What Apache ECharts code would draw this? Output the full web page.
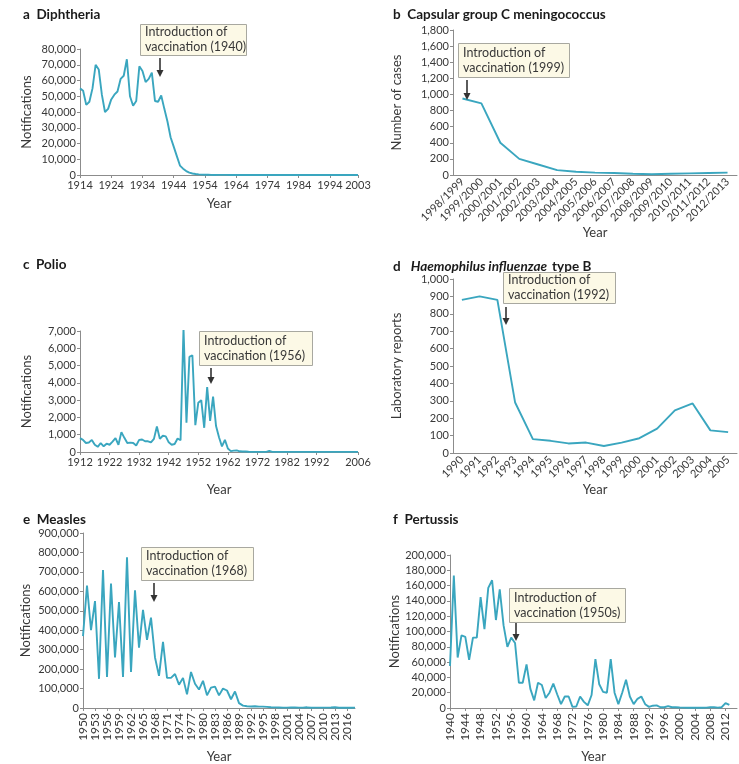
<!DOCTYPE html>
<html><head><meta charset="utf-8">
<script src="https://cdn.jsdelivr.net/npm/echarts@6/dist/echarts.min.js"></script>
<style>html,body{margin:0;padding:0;background:#fff}#c{width:739px;height:764px}</style>
</head><body><div id="c"></div>
<script>
// ---------- DATA ----------
const diphStartYear = 1914, diphEndYear = 2003;
const diphValues = [55000,53500,44500,46500,55000,70000,67000,51000,40000,42000,
  48000,51000,53000,61000,63000,73500,50000,44000,47000,69000,
  66000,59000,61000,65000,47000,46500,50500,42000,34000,24000,
  18000,12000,6000,4000,2500,1500,960,660,380,270,
  180,160,50,40,80,100,50,50,20,30,
  20,25,15,10,15,10,20,15,5,5,
  5,15,5,5,5,5,5,5,5,5,
  5,5,5,5,5,5,5,5,5,10,
  10,10,10,10,20,10,10,10,10,10];

const menCCategories = ['1998/1999','1999/2000','2000/2001','2001/2002','2002/2003','2003/2004','2004/2005','2005/2006','2006/2007','2007/2008','2008/2009','2009/2010','2010/2011','2011/2012','2012/2013'];
const menCValues = [950,890,400,200,130,60,40,30,25,15,10,15,20,25,30];

const polioStartYear = 1912, polioEndYear = 2006;
const polioValues = [800,700,520,550,700,420,300,520,330,480,
  420,600,800,420,1150,820,520,540,520,380,
  700,720,620,620,560,760,1480,760,940,900,
  560,420,460,780,680,7150,1700,5500,5600,1550,
  2850,3000,1400,3750,1800,3200,1500,850,320,700,
  200,50,80,90,40,30,25,15,10,10,
  10,5,5,5,60,5,5,5,5,5,
  5,5,5,5,5,5,5,5,5,5,
  5,5,5,5,5,5,5,5,5,5,
  5,5,5,5,5];

const hibCategories = ['1990','1991','1992','1993','1994','1995','1996','1997','1998','1999','2000','2001','2002','2003','2004','2005'];
const hibValues = [880,900,880,290,80,70,55,60,40,60,85,140,245,285,130,120];

const measlesStartYear = 1950, measlesEndYear = 2018;
const measlesValues = [370000,630000,400000,550000,150000,710000,160000,640000,260000,545000,
  160000,775000,185000,605000,310000,505000,350000,465000,260000,165000,
  340000,155000,155000,175000,120000,155000,70000,185000,125000,95000,
  140000,65000,105000,110000,65000,100000,90000,45000,85000,25000,
  12000,9000,8000,9000,7000,7000,6000,4000,3000,2500,
  2000,2000,3000,2500,2000,2000,3500,1000,2000,2000,
  2000,2000,2500,4000,1500,1500,1500,1500,2000];

const pertStartYear = 1940, pertAxisEndYear = 2015;
const pertValues = [55000,173000,66000,95000,93000,63000,92000,92000,145000,103000,
  157000,167000,115000,155000,108000,80000,92000,85000,33000,33000,
  57000,25000,10000,33000,30000,13000,20000,32000,18000,5000,
  15000,15000,1500,2000,15000,8000,3500,17000,64000,31000,
  21000,20000,64000,20000,5000,20000,37000,15000,5000,12000,
  15000,5000,1500,3000,3500,1000,1000,2500,1000,1000,
  700,500,300,300,300,300,300,500,1000,1000,
  500,1000,6500,4000];

const panelTitles = ['a  Diphtheria','b  Capsular group C meningococcus','c  Polio','d','e  Measles','f  Pertussis'];
const annotLines = [
  ['Introduction of','vaccination (1940)'],
  ['Introduction of','vaccination (1999)'],
  ['Introduction of','vaccination (1956)'],
  ['Introduction of','vaccination (1992)'],
  ['Introduction of','vaccination (1968)'],
  ['Introduction of','vaccination (1950s)']
];

// ---------- STYLE ----------
const FONT = 'Lato';
const LINE = '#3aa6bf';
const AXIS = '#8c8c8c';
const TXT = '#383838';

function years(a, b){ const r=[]; for(let y=a;y<=b;y++) r.push(String(y)); return r; }
const fmt = v => Number(v).toLocaleString('en-US');

function xCat(gi, data, opts){
  return Object.assign({
    type:'category', gridIndex:gi, data:data, boundaryGap:false,
    axisLine:{lineStyle:{color:AXIS,width:1}},
    axisTick:{length:3,lineStyle:{color:AXIS}},
    axisLabel:{color:TXT,fontSize:11,fontFamily:FONT,margin:5},
    name:'Year', nameLocation:'middle', nameGap:26,
    nameTextStyle:{color:TXT,fontSize:13,fontFamily:FONT}
  }, opts);
}
function yVal(gi, max, interval, name, gap){
  return {
    type:'value', gridIndex:gi, min:0, max:max, interval:interval,
    axisLine:{show:true,lineStyle:{color:AXIS,width:1}},
    axisTick:{show:true,length:3,lineStyle:{color:AXIS}},
    splitLine:{show:false},
    axisLabel:{color:TXT,fontSize:11,fontFamily:FONT,margin:4,formatter:fmt},
    name:name, nameLocation:'middle', nameGap:gap,
    nameTextStyle:{color:TXT,fontSize:13,fontFamily:FONT}
  };
}
function line(gi, data){
  return {type:'line', xAxisIndex:gi, yAxisIndex:gi, data:data, showSymbol:false,
    lineStyle:{color:LINE,width:1.9}, itemStyle:{color:LINE}, animation:false};
}

const diphYears = years(diphStartYear, diphEndYear);
const polioYears = years(polioStartYear, polioEndYear);
const measlesYears = years(measlesStartYear, measlesEndYear);
const pertYears = years(pertStartYear, pertAxisEndYear);

const every = (n, last) => (i) => i % n === 0 || i === last;
const polioTicks = (i) => (i % 10 === 0 && i <= 80) || i === polioYears.length - 1;

const grids = [
  {left:80, top:49, width:278, height:126},
  {left:453, top:30, width:284, height:145},
  {left:80, top:331, width:278, height:121},
  {left:453, top:279, width:284, height:174},
  {left:83, top:533, width:272, height:184},
  {left:450, top:555, width:287, height:162}
];

const xAxes = [
  xCat(0, diphYears, {axisLabel:{color:TXT,fontSize:11,fontFamily:FONT,margin:5,interval:every(10, diphYears.length-1)}, axisTick:{length:3,lineStyle:{color:AXIS},interval:every(10, diphYears.length-1)}, nameGap:22}),
  xCat(1, menCCategories, {boundaryGap:true, axisLabel:{color:TXT,fontSize:11,fontFamily:FONT,margin:5,rotate:45,interval:0}, axisTick:{length:3,lineStyle:{color:AXIS}}, nameGap:51}),
  xCat(2, polioYears, {axisLabel:{color:TXT,fontSize:11,fontFamily:FONT,margin:5,interval:polioTicks}, axisTick:{length:3,lineStyle:{color:AXIS},interval:polioTicks}, nameGap:31}),
  xCat(3, hibCategories, {boundaryGap:true, axisLabel:{color:TXT,fontSize:11,fontFamily:FONT,margin:5,rotate:45,interval:0}, axisTick:{length:3,lineStyle:{color:AXIS}}, nameGap:29}),
  xCat(4, measlesYears, {axisLabel:{color:TXT,fontSize:12,fontFamily:FONT,margin:5,rotate:90,interval:every(3, -1)}, axisTick:{length:3,lineStyle:{color:AXIS},interval:every(3,-1)}, nameGap:42}),
  xCat(5, pertYears, {axisLabel:{color:TXT,fontSize:12,fontFamily:FONT,margin:5,rotate:90,interval:every(4, -1)}, axisTick:{length:3,lineStyle:{color:AXIS},interval:every(4,-1)}, nameGap:42})
];

const yAxes = [
  yVal(0, 80000, 10000, 'Notifications', 47),
  yVal(1, 1800, 200, 'Number of cases', 50),
  yVal(2, 7000, 1000, 'Notifications', 47),
  yVal(3, 1000, 100, 'Laboratory reports', 50),
  yVal(4, 900000, 100000, 'Notifications', 51),
  yVal(5, 200000, 20000, 'Notifications', 47)
];

const series = [
  line(0, diphValues), line(1, menCValues), line(2, polioValues),
  line(3, hibValues), line(4, measlesValues), line(5, pertValues)
];

const titlePos = [[18,3],[388,3],[18,253],[388,253],[18,508],[388,508]];
const TS = {fontWeight:'bold',fontSize:13.5,fontFamily:FONT,color:'#1a1a1a'};
const titles = titlePos.map((p,i)=>{
  if (i===3) {
    return {left:p[0], top:p[1], text:'{b|d}  {bi|Haemophilus influenzae} {b|type B}',
      textStyle:{rich:{b:TS, bi:Object.assign({}, TS, {fontStyle:'italic'})}}};
  }
  return {left:p[0], top:p[1], text:panelTitles[i], textStyle:TS};
});

// annotation layout: box [x,y,w,h], arrow [x,y1,y2]
const annotLayout = [
  {box:[140,24,106,31], arrow:[160,58,77]},
  {box:[458,43,111,34], arrow:[467,80,100]},
  {box:[199,331,113,34], arrow:[211,368,384]},
  {box:[503,272,112,31], arrow:[506,307,325]},
  {box:[141,547,112,33], arrow:[154,583,602]},
  {box:[509,588,116,34], arrow:[516,623,641]}
];
const graphics = [];
annotLayout.forEach((a,i)=>{
  const [bx,by,bw,bh] = a.box;
  graphics.push({type:'rect', shape:{x:bx+0.5,y:by+0.5,width:bw,height:bh},
    style:{fill:'#fcf9e6',stroke:'#a8a8a0',lineWidth:1}, z:10});
  graphics.push({type:'text', x:bx+5, y:by+bh/2, z:11,
    style:{text:annotLines[i].join('\n'), fill:TXT, font:'12.5px '+FONT, lineHeight:15,
      textVerticalAlign:'middle', verticalAlign:'middle'}});
  const [ax,ay1,ay2] = a.arrow;
  graphics.push({type:'line', shape:{x1:ax,y1:ay1,x2:ax,y2:ay2-5}, style:{stroke:'#333',lineWidth:1.6}, z:10});
  graphics.push({type:'polygon', shape:{points:[[ax-3.5,ay2-7],[ax+3.5,ay2-7],[ax,ay2]]}, style:{fill:'#333'}, z:10});
});

const chart = echarts.init(document.getElementById('c'), null, {renderer:'canvas'});
chart.setOption({
  backgroundColor:'#ffffff',
  animation:false,
  title:titles,
  grid:grids,
  xAxis:xAxes,
  yAxis:yAxes,
  series:series,
  graphic:graphics
});
</script>
</body></html>
